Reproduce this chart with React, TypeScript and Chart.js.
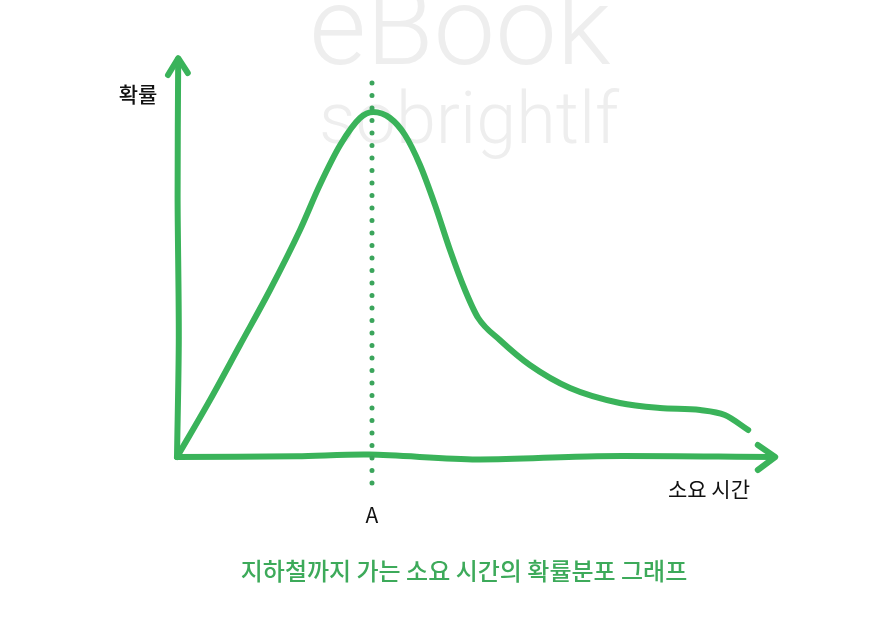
import React, { useEffect, useRef } from "react";
import { Chart, registerables } from "chart.js";

Chart.register(...registerables);

// Probability density curve (x: time units, y: probability units)
const curveX = [0, 5.5, 10.5, 15.5, 20.5, 23.8, 27.2, 30.5, 32.7, 35.5, 38, 40.5, 43, 45.5, 48, 50.2, 53.8, 58.8, 65.5, 73.8, 80.5, 87.2, 91.3, 95.2];
const curveY = [0, 14.25, 28, 41.75, 56.75, 68, 78, 84.75, 86.25, 84.75, 80.5, 73, 63, 51.75, 41.75, 34.75, 29.25, 23, 17.25, 13.5, 12.25, 11.75, 10.5, 6.75];

// Hand-drawn axes
const yAxisX = [0, 0.3, 0.1, 0.2];
const yAxisY = [0, 30, 65, 99.5];
const yArrowX = [-1.5, 0.2, 1.8];
const yArrowY = [95.5, 99.7, 96];
const xAxisX = [0, 20, 32, 50, 70, 99.5];
const xAxisY = [0, 0.2, 0.6, -0.6, 0.2, 0];
const xArrowX = [96.8, 99.7, 96.8];
const xArrowY = [3, 0, -3.25];

// Mode marker
const modeX = 32.5;
const modeTop = 93.5;
const modeBottom = -8.5;

const yTitle = "확률";
const xTitle = "소요 시간";
const modeLabel = "A";
const caption = "지하철까지 가는 소요 시간의 확률분포 그래프";
const watermark1 = "eBook";
const watermark2 = "sobrightlf";

const pts = (xs: number[], ys: number[]) => xs.map((x, i) => ({ x, y: ys[i] }));

const GREEN = "#3ab35a";
const DOT = "#3ba55c";

export default function App() {
  const ref = useRef<HTMLCanvasElement>(null);
  useEffect(() => {
    if (!ref.current) return;
    const textPlugin = {
      id: "texts",
      beforeDatasetsDraw(chart: any) {
        const ctx = chart.ctx;
        ctx.save();
        ctx.fillStyle = "#eeeeee";
        ctx.textAlign = "center";
        ctx.textBaseline = "alphabetic";
        ctx.font = "300 110px Roboto";
        ctx.fillText(watermark1, 460, 64);
        ctx.font = "300 72px Roboto";
        ctx.fillText(watermark2, 469, 143);
        ctx.restore();
      },
      afterDraw(chart: any) {
        const ctx = chart.ctx;
        const xs = chart.scales.x;
        const ys = chart.scales.y;
        ctx.save();
        ctx.fillStyle = "#111";
        ctx.textBaseline = "middle";
        ctx.textAlign = "center";
        ctx.font = "500 21px 'Noto Sans CJK KR'";
        ctx.fillText(yTitle, 138, 94);
        ctx.font = "400 21px 'Noto Sans CJK KR'";
        ctx.fillText(xTitle, 709, 489);
        ctx.font = "400 21px 'Noto Sans CJK KR'";
        ctx.fillText(modeLabel, xs.getPixelForValue(modeX), ys.getPixelForValue(-14.5));
        ctx.fillStyle = "#3daa5a";
        ctx.font = "500 24px 'Noto Sans CJK KR'";
        ctx.fillText(caption, 464, 571);
        ctx.restore();
      },
    };
    const lineDs = (data: any[], extra: any = {}) => ({
      data,
      borderColor: GREEN,
      borderWidth: 6,
      pointRadius: 0,
      fill: false,
      tension: 0,
      borderCapStyle: "round",
      borderJoinStyle: "round",
      clip: false,
      ...extra,
    });
    const chart = new Chart(ref.current, {
      type: "line",
      data: {
        datasets: [
          lineDs(pts([modeX, modeX], [modeTop, modeBottom]), {
            borderColor: DOT,
            borderWidth: 5,
            borderDash: [0, 12.5],
          }),
          lineDs(pts(yAxisX, yAxisY), { tension: 0.3 }),
          lineDs(pts(yArrowX, yArrowY)),
          lineDs(pts(xAxisX, xAxisY), { tension: 0.3 }),
          lineDs(pts(xArrowX, xArrowY)),
          lineDs(pts(curveX, curveY), { cubicInterpolationMode: "monotone" }),
        ],
      },
      options: {
        animation: false,
        responsive: false,
        layout: { padding: { left: 177, right: 93, top: 57, bottom: 84 } },
        plugins: { legend: { display: false }, tooltip: { enabled: false } },
        scales: {
          x: { type: "linear", min: 0, max: 100, display: false },
          y: { type: "linear", min: -25, max: 100, display: false },
        },
      },
      plugins: [textPlugin],
    } as any);
    return () => chart.destroy();
  }, []);
  return (
    <div style={{ position: "fixed", left: 0, top: 0, width: 870, height: 641, background: "#fff" }}>
      <canvas ref={ref} width={870} height={641} />
    </div>
  );
}
